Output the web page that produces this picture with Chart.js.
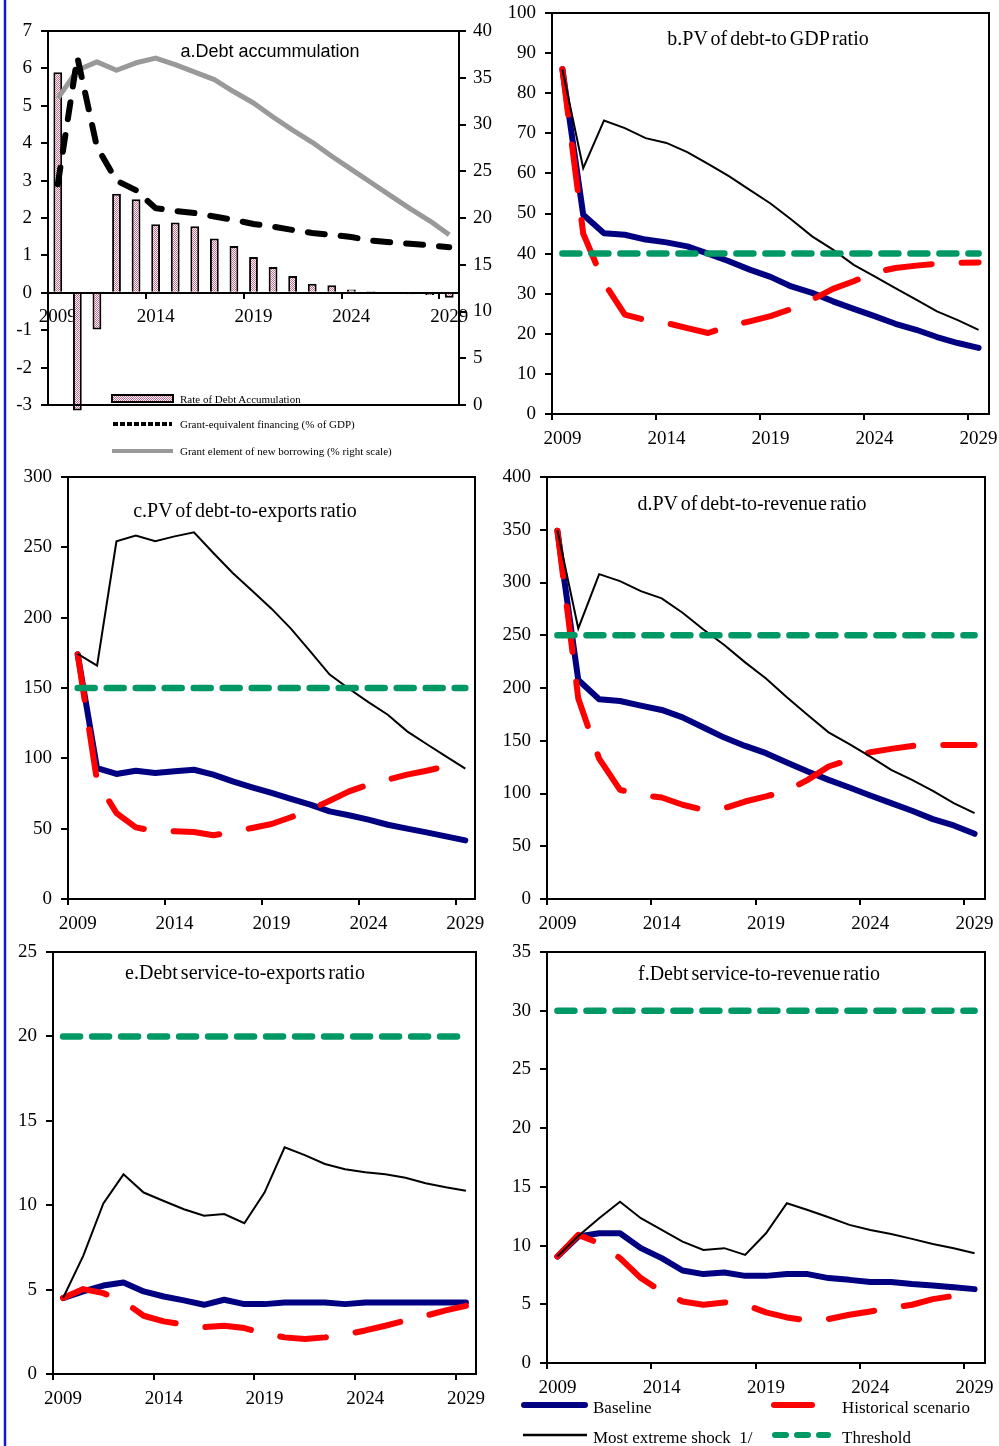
<!DOCTYPE html>
<html>
<head>
<meta charset="utf-8">
<script src="https://cdn.jsdelivr.net/npm/chart.js@4.4.1/dist/chart.umd.min.js"></script>
<style>
  body { margin: 0; background: #fff; }
  #page { position: relative; width: 999px; height: 1446px; overflow: hidden; background: #fff; }
  #page canvas { position: absolute; }
  #overlay { position: absolute; left: 0; top: 0; pointer-events: none; }
</style>
</head>
<body>
<div id="page">
  <svg id="overlay" width="999" height="1446" xmlns="http://www.w3.org/2000/svg">
    <defs>
      <pattern id="hatch" width="2" height="2" patternUnits="userSpaceOnUse">
        <rect width="2" height="2" fill="#fff"/>
        <rect width="1" height="1" fill="#d4648a"/>
        <rect x="1" y="1" width="1" height="1" fill="#d4648a"/>
      </pattern>
    </defs>
    <line x1="5" y1="0" x2="5" y2="1446" stroke="#1515e0" stroke-width="2.5"/>

    <g font-family="Liberation Serif" font-size="20" text-anchor="middle" fill="#000" word-spacing="-2">
      <text x="270" y="57" font-family="Liberation Sans" font-size="18" word-spacing="0">a.Debt accummulation</text>
      <text x="768" y="45">b.PV of debt-to GDP ratio</text>
      <text x="245" y="517">c.PV of debt-to-exports ratio</text>
      <text x="752" y="510">d.PV of debt-to-revenue ratio</text>
      <text x="245" y="979">e.Debt service-to-exports ratio</text>
      <text x="759" y="980">f.Debt service-to-revenue ratio</text>
    </g>

    <!-- legend of panel a -->
    <rect x="112" y="395" width="61" height="7" fill="url(#hatch)" stroke="#000" stroke-width="2"/>
    <line x1="113" y1="424" x2="172" y2="424" stroke="#000" stroke-width="4" stroke-dasharray="5 2"/>
    <line x1="112" y1="451" x2="173" y2="451" stroke="#999" stroke-width="4"/>
    <g font-family="Liberation Serif" font-size="11" fill="#000">
      <text x="180" y="403">Rate of Debt Accumulation</text>
      <text x="180" y="428">Grant-equivalent financing (% of GDP)</text>
      <text x="180" y="455">Grant element of new borrowing (% right scale)</text>
    </g>

    <!-- shared legend -->
    <line x1="524" y1="1405" x2="585" y2="1405" stroke="#000080" stroke-width="6" stroke-linecap="round"/>
    <line x1="774" y1="1405" x2="812" y2="1405" stroke="#ff0000" stroke-width="6" stroke-linecap="round"/>
    <line x1="523" y1="1435" x2="587" y2="1435" stroke="#000" stroke-width="2.5"/>
    <line x1="775" y1="1435" x2="828" y2="1435" stroke="#009966" stroke-width="6" stroke-linecap="round" stroke-dasharray="11 11"/>
    <g font-family="Liberation Serif" font-size="17" fill="#000">
      <text x="593" y="1413">Baseline</text>
      <text x="842" y="1413">Historical scenario</text>
      <text x="593" y="1443" xml:space="preserve">Most extreme shock  1/</text>
      <text x="842" y="1443">Threshold</text>
    </g>
  </svg>
</div>
<script>
const years = ["2009", "2010", "2011", "2012", "2013", "2014", "2015", "2016", "2017", "2018", "2019",
  "2020", "2021", "2022", "2023", "2024", "2025", "2026", "2027", "2028", "2029"];

// a. Debt accumulation
const rateOfDebtAccumulation = [5.9, -3.15, -0.98, 2.65, 2.5, 1.83, 1.88, 1.78, 1.45, 1.25, 0.96,
  0.69, 0.45, 0.24, 0.2, 0.09, 0.04, -0.03, -0.04, -0.06, -0.13];
const grantEquivalentFinancing = [2.9, 6.3, 3.9, 3.0, 2.74, 2.26, 2.19, 2.13, 2.04, 1.95, 1.84,
  1.77, 1.68, 1.6, 1.55, 1.49, 1.4, 1.35, 1.31, 1.27, 1.22];
const grantElement = [32.8, 35.8, 36.7, 35.8, 36.6, 37.1, 36.4, 35.6, 34.8, 33.5, 32.3,
  30.8, 29.4, 28.1, 26.6, 25.2, 23.8, 22.4, 21.0, 19.7, 18.2];

// b. PV of debt-to-GDP ratio
const baselineB = [86, 49.7, 45.1, 44.7, 43.5, 42.8, 41.8, 40.0, 38.1, 36.0, 34.2,
  31.8, 30.2, 28.1, 26.2, 24.4, 22.5, 21.0, 19.2, 17.7, 16.5];
const historicalB = [86, 45, 32.7, 24.8, 23.4, 22.7, 21.4, 20.2, 21.9, 23.1, 24.4,
  26.2, 28.5, 31.2, 33.1, 35.3, 36.4, 37.0, 37.5, 37.7, 37.8];
const shockB = [85.9, 61.3, 73.2, 71.3, 68.8, 67.6, 65.3, 62.4, 59.3, 55.9, 52.5,
  48.5, 44.3, 41.0, 37.2, 34.3, 31.4, 28.5, 25.6, 23.4, 21.0];
const thresholdB = [40, 40, 40, 40, 40, 40, 40, 40, 40, 40, 40, 40, 40, 40, 40, 40, 40, 40, 40, 40, 40];

// c. PV of debt-to-exports ratio
const baselineC = [174, 93, 88.9, 91.2, 89.6, 90.8, 91.9, 88.4, 83.6, 79.4, 75.4,
  71.1, 67.1, 62.3, 59.5, 56.4, 52.8, 50.0, 47.4, 44.5, 41.7];
const historicalC = [174, 83.6, 61.1, 50.9, 48.1, 48.1, 47.6, 45.3, 47.6, 50.5, 53.3,
  58.1, 63.5, 69.9, 76.5, 81.3, 84.8, 88.4, 91.2, 94.3, 94.3];
const shockC = [174.2, 165.9, 254.3, 258.3, 254.3, 257.8, 260.7, 246, 231.8, 219.2, 206.4,
  192.2, 176.1, 159.5, 149.5, 140.0, 131.0, 119.2, 110.2, 101.4, 92.7];
const thresholdC = [150, 150, 150, 150, 150, 150, 150, 150, 150, 150, 150,
  150, 150, 150, 150, 150, 150, 150, 150, 150, 150];

// d. PV of debt-to-revenue ratio
const baselineD = [349, 207.6, 189.3, 187.7, 183.3, 179.2, 172.2, 162.5, 153.0, 145.1, 138.2,
  129.3, 120.8, 112.9, 105.7, 98.1, 90.9, 83.6, 75.7, 69.7, 61.8];
const historicalD = [349, 190, 133, 103.5, 98.7, 96.2, 89.3, 84.5, 86.1, 92.4, 97.2,
  102.5, 112.9, 125.6, 131.9, 139.1, 142.3, 145.1, 146, 146, 146];
const shockD = [349.5, 256.5, 307.9, 301.3, 291.8, 284.9, 271.3, 255.5, 240.7, 224.3, 209.1,
  191.2, 174.4, 158.0, 146.7, 135.0, 122.4, 112.9, 102.5, 90.9, 81.4];
const thresholdD = [250, 250, 250, 250, 250, 250, 250, 250, 250, 250, 250,
  250, 250, 250, 250, 250, 250, 250, 250, 250, 250];

// e. Debt service-to-exports ratio
const baselineE = [4.5, 4.89, 5.24, 5.42, 4.89, 4.59, 4.36, 4.1, 4.4, 4.14, 4.14,
  4.24, 4.24, 4.24, 4.14, 4.24, 4.24, 4.24, 4.24, 4.24, 4.24];
const historicalE = [4.5, 5.03, 4.79, 4.3, 3.45, 3.12, 2.92, 2.78, 2.86, 2.72, 2.39,
  2.17, 2.07, 2.17, 2.33, 2.58, 2.86, 3.17, 3.45, 3.77, 4.04];
const shockE = [4.5, 7.0, 10.1, 11.83, 10.75, 10.25, 9.76, 9.38, 9.48, 8.93, 10.75,
  13.43, 12.97, 12.44, 12.13, 11.95, 11.83, 11.63, 11.3, 11.06, 10.86];
const thresholdE = [20, 20, 20, 20, 20, 20, 20, 20, 20, 20, 20, 20, 20, 20, 20, 20, 20, 20, 20, 20, 20];

// f. Debt service-to-revenue ratio
const baselineF = [9.07, 10.77, 11.05, 11.05, 9.78, 8.93, 7.88, 7.57, 7.71, 7.42, 7.42,
  7.57, 7.57, 7.23, 7.08, 6.89, 6.89, 6.72, 6.6, 6.46, 6.29];
const historicalF = [9.07, 10.91, 10.2, 8.93, 7.23, 6.09, 5.24, 4.96, 5.16, 4.96, 4.31,
  3.88, 3.63, 3.74, 4.11, 4.39, 4.68, 4.96, 5.44, 5.72, 6.01];
const shockF = [9.07, 10.82, 12.33, 13.74, 12.33, 11.33, 10.34, 9.63, 9.78, 9.21, 11.05,
  13.6, 13.03, 12.41, 11.76, 11.33, 10.99, 10.57, 10.14, 9.78, 9.35];
const thresholdF = [30, 30, 30, 30, 30, 30, 30, 30, 30, 30, 30, 30, 30, 30, 30, 30, 30, 30, 30, 30, 30];

const colors = {
  baseline: "#000080",
  historical: "#ff0000",
  shock: "#000000",
  threshold: "#009966",
  grant: "#999999",
};

const tickFont = { family: "Liberation Serif", size: 19 };

Chart.defaults.color = "#000";
Chart.defaults.animation = false;

// black box round each plot area
const framePlugin = {
  id: "frame",
  afterDatasetsDraw(chart) {
    const { ctx, chartArea: a } = chart;
    ctx.save();
    ctx.strokeStyle = "#000";
    ctx.lineWidth = 2;
    ctx.strokeRect(a.left, a.top, a.right - a.left, a.bottom - a.top);
    ctx.restore();
  },
};

function makeCanvas(left, top, width, height) {
  const canvas = document.createElement("canvas");
  canvas.width = width;
  canvas.height = height;
  canvas.style.left = left + "px";
  canvas.style.top = top + "px";
  canvas.style.width = width + "px";
  canvas.style.height = height + "px";
  document.getElementById("page").insertBefore(canvas, document.getElementById("overlay"));
  return canvas.getContext("2d");
}

function xAxis(height, extra) {
  return Object.assign({
    type: "category",
    offset: true,
    grid: {
      offset: true,
      drawOnChartArea: false,
      tickLength: 6,
      lineWidth: 2,
      color: (c) => (c.index % 5 === 0 ? "#000" : "rgba(0,0,0,0)"),
    },
    border: { display: true, color: "#000", width: 2 },
    ticks: {
      autoSkip: false,
      maxRotation: 0,
      padding: 8,
      color: "#000",
      font: tickFont,
      callback: (value, index) => (index % 5 === 0 ? years[index] : ""),
    },
    afterFit(scale) {
      if (height !== null) scale.height = height;
      scale.paddingLeft = 0;
      scale.paddingRight = 0;
    },
  }, extra || {});
}

function yAxis(min, max, step, width, position, pad) {
  return {
    position: position,
    min: min,
    max: max,
    grid: { drawOnChartArea: false, tickLength: 7, lineWidth: 2, color: "#000" },
    border: { display: true, color: "#000", width: 2 },
    ticks: { stepSize: step, padding: pad, color: "#000", font: tickFont },
    afterFit(scale) {
      scale.width = width;
      scale.paddingTop = 0;
      scale.paddingBottom = 0;
    },
  };
}

function scenarioDatasets(baseline, historical, shock, threshold) {
  return [
    {
      label: "Threshold",
      data: threshold,
      borderColor: colors.threshold,
      borderWidth: 6.5,
      borderDash: [17, 12],
      borderCapStyle: "round",
      order: 0,
    },
    {
      label: "Most extreme shock 1/",
      data: shock,
      borderColor: colors.shock,
      borderWidth: 2,
      order: 1,
    },
    {
      label: "Historical scenario",
      data: historical,
      borderColor: colors.historical,
      borderWidth: 6,
      borderDash: [46, 30],
      borderCapStyle: "round",
      borderJoinStyle: "round",
      order: 2,
    },
    {
      label: "Baseline",
      data: baseline,
      borderColor: colors.baseline,
      borderWidth: 6,
      borderJoinStyle: "round",
      borderCapStyle: "round",
      order: 3,
    },
  ];
}

function scenarioChart(box, area, yRange, datasets) {
  const [left, top, width, height] = box;
  const ctx = makeCanvas(left, top, width, height);
  return new Chart(ctx, {
    type: "line",
    data: { labels: years, datasets: datasets },
    options: {
      responsive: false,
      animation: false,
      layout: { padding: { top: area.top - top, right: left + width - area.right, bottom: 0, left: 0 } },
      elements: { point: { radius: 0 }, line: { tension: 0 } },
      plugins: { legend: { display: false }, tooltip: { enabled: false } },
      scales: {
        x: xAxis(top + height - area.bottom),
        y: yAxis(yRange[0], yRange[1], yRange[2], area.left - left, "left", 9),
      },
    },
    plugins: [framePlugin],
  });
}

// bar fill: pink and white checker
function hatchPattern() {
  const c = document.createElement("canvas");
  c.width = 2;
  c.height = 2;
  const g = c.getContext("2d");
  g.fillStyle = "#fff";
  g.fillRect(0, 0, 2, 2);
  g.fillStyle = "#d4648a";
  g.fillRect(0, 0, 1, 1);
  g.fillRect(1, 1, 1, 1);
  return g.createPattern(c, "repeat");
}

// panel a
const ctxA = makeCanvas(0, 0, 500, 415);
new Chart(ctxA, {
  type: "bar",
  data: {
    labels: years,
    datasets: [
      {
        type: "line",
        label: "Grant-equivalent financing (% of GDP)",
        data: grantEquivalentFinancing,
        yAxisID: "y",
        borderColor: "#000",
        borderWidth: 6,
        borderDash: [17, 16],
        borderCapStyle: "round",
        pointRadius: 0,
        tension: 0,
        order: 0,
      },
      {
        type: "line",
        label: "Grant element of new borrowing (% right scale)",
        data: grantElement,
        yAxisID: "y2",
        borderColor: colors.grant,
        borderWidth: 5,
        borderJoinStyle: "round",
        pointRadius: 0,
        tension: 0,
        order: 1,
      },
      {
        type: "bar",
        label: "Rate of Debt Accumulation",
        data: rateOfDebtAccumulation,
        yAxisID: "y",
        backgroundColor: hatchPattern(),
        borderColor: "#000",
        borderWidth: 2,
        barPercentage: 0.45,
        categoryPercentage: 1,
        clip: false,
        order: 2,
      },
    ],
  },
  options: {
    responsive: false,
    animation: false,
    layout: { padding: { top: 31, right: 0, bottom: 10, left: 0 } },
    plugins: { legend: { display: false }, tooltip: { enabled: false } },
    scales: {
      x: xAxis(null, {
        position: { y: 0 },
        grid: {
          offset: true,
          drawOnChartArea: false,
          tickLength: 5,
          lineWidth: 2,
          color: (c) => (c.index % 5 === 0 ? "#000" : "rgba(0,0,0,0)"),
        },
      }),
      y: yAxis(-3, 7, 1, 48, "left", 9),
      y2: yAxis(0, 40, 5, 41, "right", 7),
    },
  },
  plugins: [framePlugin],
});

// panels b to f
scenarioChart([500, 0, 499, 455], { left: 552, top: 13, right: 989, bottom: 414 }, [0, 100, 10],
  scenarioDatasets(baselineB, historicalB, shockB, thresholdB));
scenarioChart([0, 460, 495, 480], { left: 68, top: 477, right: 475, bottom: 899 }, [0, 300, 50],
  scenarioDatasets(baselineC, historicalC, shockC, thresholdC));
scenarioChart([495, 460, 504, 480], { left: 547, top: 477, right: 985, bottom: 899 }, [0, 400, 50],
  scenarioDatasets(baselineD, historicalD, shockD, thresholdD));
scenarioChart([0, 940, 495, 470], { left: 53, top: 952, right: 476, bottom: 1374 }, [0, 25, 5],
  scenarioDatasets(baselineE, historicalE, shockE, thresholdE));
scenarioChart([495, 940, 504, 460], { left: 547, top: 952, right: 985, bottom: 1363 }, [0, 35, 5],
  scenarioDatasets(baselineF, historicalF, shockF, thresholdF));
</script>
</body>
</html>
